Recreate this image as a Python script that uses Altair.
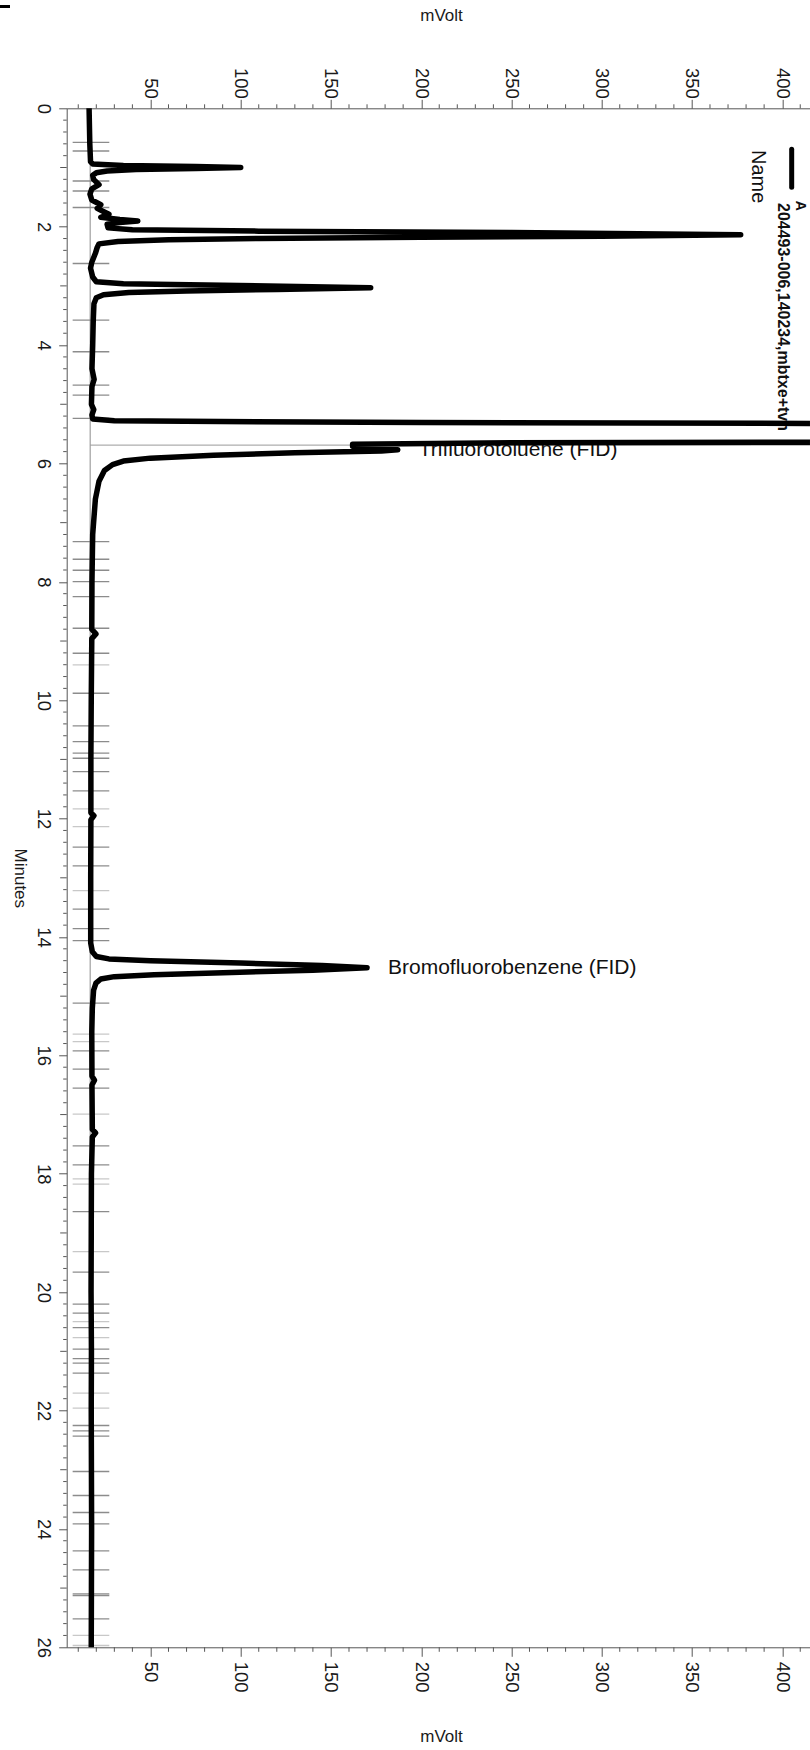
import altair as alt
import pandas as pd

# ---------------- data ----------------
time_min = [0.00, 0.30, 0.60, 0.90, 0.94, 0.965, 0.985, 1.00, 1.015, 1.035, 1.06, 1.09, 1.13,
            1.20, 1.29, 1.36, 1.45, 1.55, 1.63, 1.69, 1.76, 1.79, 1.84, 1.88, 1.905, 1.93, 1.96,
            2.02, 2.05, 2.075, 2.10, 2.135, 2.16, 2.18, 2.20, 2.22, 2.25, 2.29, 2.35, 2.45, 2.60,
            2.70, 2.85, 2.93, 2.965, 2.99, 3.03, 3.06, 3.085, 3.11, 3.15, 3.20, 3.30, 3.60, 4.00,
            4.40, 4.58, 4.70, 5.00, 5.09, 5.18, 5.25, 5.28, 5.31, 5.34, 5.37, 5.60, 5.625, 5.65,
            5.675, 5.71, 5.745, 5.77, 5.79, 5.82, 5.86, 5.91, 5.96, 6.02, 6.12, 6.30, 6.60, 7.20,
            8.00, 8.80, 8.88, 8.96, 10.0, 11.0, 11.90, 11.95, 12.02, 13.0, 14.10, 14.25, 14.33,
            14.37, 14.40, 14.44, 14.48, 14.52, 14.56, 14.60, 14.64, 14.67, 14.71, 14.78, 14.90,
            15.2, 15.6, 16.35, 16.42, 16.50, 17.25, 17.31, 17.38, 18.0, 19.0, 20.0, 21.0, 22.0,
            23.0, 24.0, 25.0, 26.0]
signal_mv = [16.0, 16.2, 16.4, 16.8, 18, 35, 75, 100, 75, 42, 26, 20, 18,
             18.5, 21.5, 17.5, 16.5, 17.5, 22.5, 20.5, 25, 27, 22.5, 33, 43, 33, 26,
             26.5, 40, 110, 250, 377, 300, 200, 110, 60, 32, 21.5, 20.5, 19.5, 17.5,
             16.8, 18, 20, 35, 90, 172, 120, 70, 38, 24, 20, 18.7, 18.3, 18.0,
             17.6, 18.8, 17.6, 17.3, 18.6, 17.6, 18, 30, 200, 700, 1500, 1500, 700, 250,
             162, 162, 180, 187, 178, 130, 85, 50, 35, 29, 24.5, 21.5, 19.5, 18.0,
             17.6, 17.5, 19.8, 17.5, 17.2, 17.0, 17.0, 18.7, 17.0, 16.9, 16.9, 17.8, 20,
             27, 50, 100, 145, 170, 140, 95, 52, 30, 22.5, 19.8, 18.5,
             17.8, 17.5, 17.6, 19.0, 17.6, 17.8, 19.6, 17.8, 17.3, 17.2, 17.1, 17.3, 17.2,
             17.3, 17.4, 17.3, 17.2]

marker_dark = [0.574, 0.721, 1.228, 1.397, 1.676, 2.622, 3.579, 4.113, 4.676, 4.845, 5.24,
               7.321, 7.618, 7.804, 7.997, 8.25, 8.784, 9.206, 9.882, 10.434, 10.699, 10.895,
               10.980, 11.206, 11.532, 12.483, 12.799, 13.530, 13.858, 14.061, 15.118, 15.924,
               16.233, 16.554, 17.529, 17.850, 18.639, 19.662, 20.203, 20.355, 20.598, 20.963,
               21.122, 21.199, 21.368, 22.253, 22.343, 22.432, 23.030, 23.436, 23.723, 23.914,
               24.370, 24.691, 25.096, 25.125, 25.52]
marker_light = [9.404, 11.836, 12.135, 13.216, 15.642, 15.767, 16.993, 18.086, 18.176, 19.314,
                20.497, 20.767, 21.706, 21.959, 25.80, 25.97]
marker_lo, marker_hi = 6.9, 27.2

baseline_mv = 16.6
cut_time = 5.69

peak_names = ["Trifluorotoluene (FID)", "Bromofluorobenzene (FID)"]
peak_times = [5.77, 14.52]
peak_heights = [187, 170]

mv_ticks = [50, 100, 150, 200, 250, 300, 350, 400]
mv_minor = [v for v in range(10, 416, 10) if v not in mv_ticks]
time_ticks = list(range(0, 27, 2))
time_mid = list(range(1, 26, 2))
time_minor = [round(i * 0.2, 1) for i in range(131) if i % 5 != 0]

legend_title = "Name"
legend_series = "A"
legend_sample = "204493-006,140234,mbtxe+tvh"

# ---------------- layout ----------------
PX_PER_MV = 1.805
X_MIN, X_MAX = 3.6, 415.4
W, H = (X_MAX - X_MIN) * PX_PER_MV, 1539
FONT = "Liberation Sans"
AX = "#555555"
xs = alt.Scale(domain=[X_MIN, X_MAX], nice=False, zero=False)
ys = alt.Scale(domain=[0, 26], nice=False, zero=False, reverse=True)

trace_df = pd.DataFrame({"idx": list(range(len(time_min))), "t": time_min, "mv": signal_mv})
dark_df = pd.DataFrame({"t": marker_dark, "lo": marker_lo, "hi": marker_hi})
light_df = pd.DataFrame({"t": marker_light, "lo": marker_lo, "hi": marker_hi})
peaks_df = pd.DataFrame({"name": peak_names, "t": peak_times, "mv": peak_heights})
one = pd.DataFrame({"a": [0]})

dark = alt.Chart(dark_df).mark_rule(color="#8c8c8c", strokeWidth=1.3).encode(
    x=alt.X("lo:Q", scale=xs, axis=None), x2="hi:Q", y=alt.Y("t:Q", scale=ys, axis=None))
light = alt.Chart(light_df).mark_rule(color="#c8c8c8", strokeWidth=1.3).encode(
    x=alt.X("lo:Q", scale=xs, axis=None), x2="hi:Q", y=alt.Y("t:Q", scale=ys, axis=None))

base_df = pd.DataFrame({"mv": [baseline_mv], "t0": [0], "t1": [26]})
baseline = alt.Chart(base_df).mark_rule(color="#8c8c8c", strokeWidth=1).encode(
    x=alt.X("mv:Q", scale=xs, axis=None), y=alt.Y("t0:Q", scale=ys, axis=None), y2="t1:Q")

cut_df = pd.DataFrame({"t": [cut_time], "lo": [baseline_mv], "hi": [X_MAX]})
cutline = alt.Chart(cut_df).mark_rule(color="#9a9a9a", strokeWidth=1).encode(
    x=alt.X("lo:Q", scale=xs, axis=None), x2="hi:Q", y=alt.Y("t:Q", scale=ys, axis=None))

labels = alt.Chart(peaks_df).mark_text(font=FONT, fontSize=21, color="#111111", align="left",
                                       baseline="middle", dx=21).encode(
    x=alt.X("mv:Q", scale=xs, axis=None), y=alt.Y("t:Q", scale=ys, axis=None), text="name:N")

leg_name = alt.Chart(one).mark_text(text=legend_title, font=FONT, fontSize=20, angle=90,
                                    align="left", baseline="middle", color="#111111").encode(
    x=alt.value(691.3), y=alt.value(41.7))
leg_a = alt.Chart(one).mark_text(text=legend_series, font=FONT, fontSize=14, fontWeight="bold",
                                 angle=90, align="left", baseline="middle", color="#111111").encode(
    x=alt.value(733.3), y=alt.value(92.5))
leg_id = alt.Chart(one).mark_text(text=legend_sample, font=FONT, fontSize=16, fontWeight="bold",
                                  angle=90, align="left", baseline="middle", color="#111111").encode(
    x=alt.value(716.0), y=alt.value(94.7))
leg_sym = alt.Chart(one).mark_rule(color="black", strokeWidth=5, strokeCap="round").encode(
    x=alt.value(725), y=alt.value(41), y2=alt.value(79))
corner = alt.Chart(one).mark_rule(color="black", strokeWidth=3).encode(
    x=alt.value(-66.7), x2=alt.value(-56.7), y=alt.value(-101.8))

trace = alt.Chart(trace_df).mark_line(color="black", strokeWidth=5.5, strokeCap="round",
                                      strokeJoin="round", clip=True).encode(
    x=alt.X("mv:Q", scale=xs, axis=alt.Axis(
        orient="top", values=mv_ticks, tickSize=9, labelAngle=90, labelAlign="right",
        labelBaseline="middle", labelPadding=1, grid=False, labelFlush=False, labelOverlap=False,
        title="mVolt", titleX=374.3, titleY=-93.3, titleAngle=0, titleAlign="center",
        titleBaseline="middle", titleFontSize=17, titleFontWeight="normal")),
    y=alt.Y("t:Q", scale=ys, axis=alt.Axis(
        orient="left", values=time_ticks, tickSize=8, labelAngle=90, labelAlign="center",
        labelBaseline="middle", labelPadding=15, grid=False, labelFlush=False, labelOverlap=False,
        title="Minutes", titleX=-46.7, titleY=769.5, titleAngle=90, titleAlign="center",
        titleBaseline="middle", titleFontSize=17, titleFontWeight="normal")),
    order="idx:Q")

top_minor = alt.Chart(pd.DataFrame({"v": mv_minor})).mark_rule(color=AX, strokeWidth=1).encode(
    x=alt.X("v:Q", scale=xs, axis=None), y=alt.value(-4), y2=alt.value(0))
bot_minor = alt.Chart(pd.DataFrame({"v": mv_minor})).mark_rule(color=AX, strokeWidth=1).encode(
    x=alt.X("v:Q", scale=xs, axis=alt.Axis(
        orient="bottom", values=mv_ticks, tickSize=9, labelAngle=90, labelAlign="left",
        labelBaseline="middle", labelPadding=5, grid=False, labelFlush=False, labelOverlap=False,
        title="mVolt", titleX=374.3, titleY=89, titleAngle=0, titleAlign="center",
        titleBaseline="middle", titleFontSize=17, titleFontWeight="normal")),
    y=alt.value(H), y2=alt.value(H + 4.5))
left_minor = alt.Chart(pd.DataFrame({"v": time_minor})).mark_rule(color=AX, strokeWidth=1).encode(
    y=alt.Y("v:Q", scale=ys, axis=None), x=alt.value(-3.5), x2=alt.value(0))
left_mid = alt.Chart(pd.DataFrame({"v": time_mid})).mark_rule(color=AX, strokeWidth=1).encode(
    y=alt.Y("v:Q", scale=ys, axis=None), x=alt.value(-6.5), x2=alt.value(0))

chart = alt.layer(
    dark, light, baseline, cutline, labels, leg_name, leg_a, leg_id,
    trace, leg_sym, corner, top_minor, bot_minor, left_minor, left_mid
).resolve_axis(x="independent", y="independent").properties(
    width=W, height=H,
    autosize=alt.AutoSizeParams(type="none"),
    padding={"left": 66.7, "top": 108.3, "right": 0, "bottom": 102},
).configure_axis(
    domainColor=AX, tickColor=AX, domainWidth=1, tickWidth=1,
    labelColor="#1a1a1a", titleColor="#1a1a1a", labelFont=FONT, titleFont=FONT,
    labelFontSize=18.5,
).configure_view(strokeOpacity=0)

chart.save("out.html", embed_options={"renderer": "svg", "actions": False})
